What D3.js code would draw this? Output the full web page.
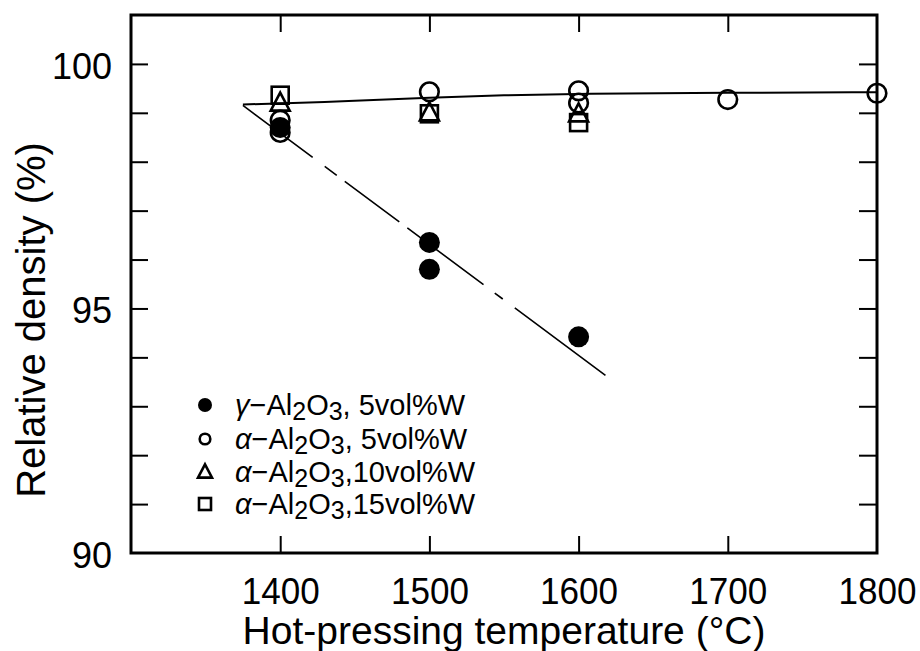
<!DOCTYPE html>
<html><head><meta charset="utf-8">
<script src="https://cdn.jsdelivr.net/npm/d3@7"></script>
<style>
html,body{margin:0;padding:0;background:#fff;}
svg{display:block;}
</style></head>
<body>
<svg id="chart" width="920" height="651"></svg>
<script>
// ---- data ----
const xTicks = [1400, 1500, 1600, 1700, 1800];
const yTickLabels = [90, 95, 100];
const yMinorTicks = [91, 92, 93, 94, 95, 96, 97, 98, 99, 100];

const gammaT = [1400, 1500, 1500, 1600];
const gammaD = [98.7, 96.35, 95.8, 94.42];

const alpha5T = [1400, 1400, 1500, 1600, 1600, 1700, 1800];
const alpha5D = [98.85, 98.6, 99.43, 99.45, 99.2, 99.27, 99.4];

const alpha10T = [1400, 1500, 1600];
const alpha10D = [99.2, 99.0, 98.98];

const alpha15T = [1400, 1500, 1600];
const alpha15D = [99.36, 98.98, 98.8];

const alphaFitT = [1375, 1450, 1500, 1550, 1600, 1700, 1800];
const alphaFitD = [99.17, 99.24, 99.31, 99.36, 99.39, 99.41, 99.42];

const gammaFitT = [1375, 1618];
const gammaFitD = [99.15, 93.63];

const legendLabels = [
  {greek: "γ", rest: "−Al", s1: "2", mid: "O", s2: "3", tail: ", 5vol%W", sym: "filled"},
  {greek: "α", rest: "−Al", s1: "2", mid: "O", s2: "3", tail: ", 5vol%W", sym: "circle"},
  {greek: "α", rest: "−Al", s1: "2", mid: "O", s2: "3", tail: ",10vol%W", sym: "triangle"},
  {greek: "α", rest: "−Al", s1: "2", mid: "O", s2: "3", tail: ",15vol%W", sym: "square"}
];

// ---- layout ----
const L = 131, R = 877, T = 15, B = 553;
const svg = d3.select("#chart");
const x = d3.scaleLinear().domain([1300, 1800]).range([L, R]);
const y = d3.scaleLinear().domain([90, 101]).range([B, T]);
const font = "'Liberation Sans', Arial, sans-serif";

// frame
svg.append("rect").attr("x", L).attr("y", T).attr("width", R - L).attr("height", B - T)
  .attr("fill", "none").attr("stroke", "#000").attr("stroke-width", 3);

// bottom axis (inward ticks)
const xAxB = svg.append("g").attr("transform", `translate(0,${B})`)
  .call(d3.axisBottom(x).tickValues(xTicks).tickSize(-17).tickFormat(d3.format("d")));
xAxB.select(".domain").remove();
xAxB.selectAll(".tick line").attr("stroke-width", 2).filter(d => d === 1800).remove();
xAxB.selectAll(".tick text").attr("font-family", font).attr("font-size", 37).attr("fill", "#000")
  .attr("textLength", 78).attr("lengthAdjust", "spacingAndGlyphs").attr("dy", "0.71em").attr("y", 25);

// top axis ticks
const xAxT = svg.append("g").attr("transform", `translate(0,${T})`)
  .call(d3.axisTop(x).tickValues(xTicks.filter(d => d < 1800)).tickSize(-17).tickFormat(""));
xAxT.select(".domain").remove();
xAxT.selectAll(".tick line").attr("stroke-width", 2);

// left axis
const yAxL = svg.append("g").attr("transform", `translate(${L},0)`)
  .call(d3.axisLeft(y).tickValues(yMinorTicks).tickSize(-17).tickFormat(""));
yAxL.select(".domain").remove();
yAxL.selectAll(".tick line").attr("stroke-width", 2);
const yLab = svg.append("g").attr("transform", `translate(${L},0)`)
  .call(d3.axisLeft(y).tickValues(yTickLabels).tickSize(0).tickPadding(19).tickFormat(d3.format("d")));
yLab.select(".domain").remove();
yLab.selectAll(".tick text").attr("font-family", font).attr("font-size", 36).attr("fill", "#000")
  .attr("dy", "0.4em");

// right axis
const yAxR = svg.append("g").attr("transform", `translate(${R},0)`)
  .call(d3.axisRight(y).tickValues(yMinorTicks).tickSize(-18).tickFormat(""));
yAxR.select(".domain").remove();
yAxR.selectAll(".tick line").attr("stroke-width", 2);

// axis titles
svg.append("text").attr("x", (L + R) / 2).attr("y", 644).attr("text-anchor", "middle")
  .attr("font-family", font).attr("font-size", 39).attr("fill", "#000")
  .text("Hot-pressing temperature (°C)");
svg.append("text").attr("transform", "translate(45,320) rotate(-90)").attr("text-anchor", "middle")
  .attr("font-family", font).attr("font-size", 40).attr("fill", "#000")
  .text("Relative density (%)");

// fit lines
svg.append("path").datum(alphaFitT.map((t, i) => [t, alphaFitD[i]]))
  .attr("d", d3.line().x(d => x(d[0])).y(d => y(d[1])).curve(d3.curveBasis))
  .attr("fill", "none").attr("stroke", "#000").attr("stroke-width", 2);
svg.append("path").datum(gammaFitT.map((t, i) => [t, gammaFitD[i]]))
  .attr("d", d3.line().x(d => x(d[0])).y(d => y(d[1]))).attr("fill", "none").attr("stroke", "#000").attr("stroke-width", 1.6)
  .attr("stroke-dasharray", "87,15,15,10,68,10,95,14,10,15,120");

// markers
function drawSym(g, type, cx, cy, size) {
  if (type === "filled") {
    g.append("circle").attr("cx", cx).attr("cy", cy).attr("r", size / 2).attr("fill", "#000");
  } else if (type === "circle") {
    g.append("circle").attr("cx", cx).attr("cy", cy).attr("r", size / 2 - 1.2).attr("fill", "none")
      .attr("stroke", "#000").attr("stroke-width", 2.6);
  } else if (type === "triangle") {
    const h = size * 0.95, w = size;
    g.append("path").attr("d", `M${cx},${cy - h * 0.58}L${cx + w / 2},${cy + h * 0.42}L${cx - w / 2},${cy + h * 0.42}Z`)
      .attr("fill", "none").attr("stroke", "#000").attr("stroke-width", 2.6).attr("stroke-linejoin", "miter");
  } else if (type === "square") {
    g.append("rect").attr("x", cx - size / 2 + 1).attr("y", cy - size / 2 + 1).attr("width", size - 2).attr("height", size - 2)
      .attr("fill", "none").attr("stroke", "#000").attr("stroke-width", 2.6);
  }
}
const pts = svg.append("g");
alpha15T.forEach((t, i) => drawSym(pts, "square", x(t), y(alpha15D[i]), 19));
alpha10T.forEach((t, i) => drawSym(pts, "triangle", x(t), y(alpha10D[i]), 19));
alpha5T.forEach((t, i) => drawSym(pts, "circle", x(t), y(alpha5D[i]), 21));
gammaT.forEach((t, i) => drawSym(pts, "filled", x(t), y(gammaD[i]), 21));

// legend
const lg = svg.append("g");
const rowY = [405, 439, 472, 504];
legendLabels.forEach((d, i) => {
  const sz = d.sym === "filled" ? 14 : (d.sym === "circle" ? 13 : 14);
  drawSym(lg, d.sym, 205, rowY[i], sz);
  const tx = lg.append("text").attr("x", 235).attr("y", rowY[i] + 10)
    .attr("font-family", font).attr("font-size", 29).attr("fill", "#000");
  tx.append("tspan").attr("font-style", "italic").text(d.greek);
  tx.append("tspan").text(d.rest);
  tx.append("tspan").attr("font-size", 25).attr("dy", 5).text(d.s1);
  tx.append("tspan").attr("dy", -5).text(d.mid);
  tx.append("tspan").attr("font-size", 25).attr("dy", 5).text(d.s2);
  tx.append("tspan").attr("dy", -5).text(d.tail);
});
</script>
</body></html>
